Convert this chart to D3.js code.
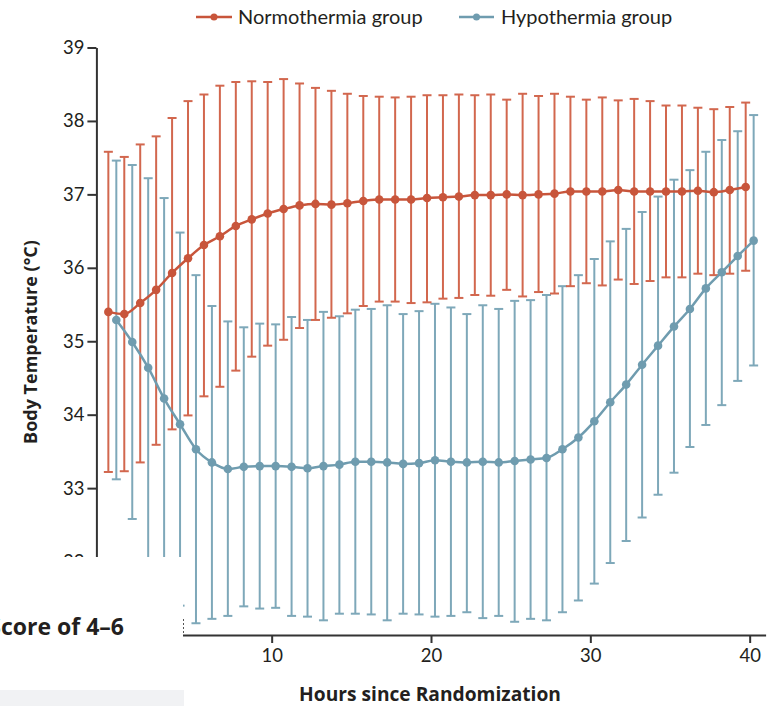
<!DOCTYPE html>
<html>
<head>
<meta charset="utf-8">
<script src="https://cdn.jsdelivr.net/npm/d3@7/dist/d3.min.js"></script>
<style>
  html, body { margin: 0; padding: 0; background: #fff; }
  svg { display: block; }
  text { font-family: Lato, "Open Sans", sans-serif; fill: #231f20; }
  .title { font-family: "Open Sans", Lato, sans-serif; font-weight: 700; }
</style>
</head>
<body>
<svg id="chart" width="773" height="706"></svg>
<script>
// Hourly body temperature (mean with error bars), hours 0-40 after randomization
const hours = d3.range(0, 41);

const normMean = [35.40,35.37,35.52,35.70,35.93,36.13,36.31,36.43,36.57,36.66,36.74,36.80,36.85,36.87,36.86,36.88,36.91,36.93,36.93,36.93,36.95,
                  36.96,36.97,36.99,36.99,37.00,36.99,37.00,37.01,37.04,37.04,37.04,37.06,37.04,37.04,37.04,37.04,37.05,37.03,37.06,37.10];
const normHigh = [37.58,37.51,37.68,37.79,38.04,38.27,38.36,38.48,38.53,38.54,38.53,38.57,38.51,38.45,38.41,38.37,38.34,38.33,38.32,38.33,38.35,
                  38.35,38.36,38.35,38.36,38.29,38.37,38.34,38.37,38.33,38.29,38.32,38.28,38.30,38.27,38.21,38.21,38.18,38.16,38.19,38.25];
const normLow  = [33.22,33.23,33.35,33.59,33.80,33.99,34.25,34.38,34.60,34.79,34.94,35.02,35.18,35.29,35.32,35.38,35.48,35.54,35.54,35.52,35.53,
                  35.58,35.59,35.63,35.62,35.70,35.61,35.67,35.65,35.75,35.79,35.76,35.84,35.78,35.82,35.87,35.87,35.92,35.90,35.92,35.96];

const hypoMean = [35.29,34.99,34.64,34.22,33.87,33.53,33.35,33.26,33.29,33.30,33.30,33.29,33.27,33.30,33.32,33.36,33.36,33.35,33.33,33.34,33.38,
                  33.36,33.35,33.36,33.35,33.37,33.39,33.41,33.53,33.69,33.91,34.17,34.41,34.68,34.94,35.20,35.44,35.72,35.94,36.16,36.37];
const hypoHigh = [37.46,37.40,37.22,36.95,36.48,35.90,35.48,35.27,35.19,35.24,35.23,35.33,35.29,35.40,35.34,35.43,35.44,35.49,35.37,35.41,35.51,
                  35.46,35.37,35.49,35.44,35.55,35.56,35.63,35.75,35.90,36.12,36.36,36.53,36.76,36.97,37.20,37.33,37.58,37.74,37.86,38.08];
const hypoLow  = [33.12,32.58,31.95,31.62,31.40,31.16,31.22,31.26,31.39,31.36,31.37,31.26,31.25,31.20,31.29,31.29,31.28,31.20,31.29,31.28,31.25,
                  31.26,31.31,31.23,31.26,31.18,31.22,31.20,31.31,31.47,31.70,31.98,32.28,32.60,32.91,33.21,33.56,33.86,34.13,34.46,34.67];

const xTicks = [0, 10, 20, 30, 40];
const yTicks = [32, 33, 34, 35, 36, 37, 38, 39];

const groups = [
  { name: "Normothermia group", mean: normMean, low: normLow, high: normHigh, shift: -0.25,
    line: "#c8553b", bar: "#d2674e" },
  { name: "Hypothermia group", mean: hypoMean, low: hypoLow, high: hypoHigh, shift: 0.25,
    line: "#6f9caf", bar: "#7ea8b9" }
];

const svg = d3.select("#chart");
const x = d3.scaleLinear().domain([-1, 41]).range([96.4, 765.6]);
const y = d3.scaleLinear().domain([31, 39]).range([635, 47.5]);

// axes
const yAxis = svg.append("g").attr("transform", "translate(96.4,0)")
  .call(d3.axisLeft(y).tickValues(yTicks).tickSize(9).tickSizeOuter(0).tickPadding(3));
const xAxis = svg.append("g").attr("transform", "translate(0,635)")
  .call(d3.axisBottom(x).tickValues(xTicks).tickSize(8).tickSizeOuter(0).tickPadding(6));
[yAxis, xAxis].forEach(a => {
  a.select(".domain").attr("stroke", "#333").attr("stroke-width", 2);
  a.selectAll(".tick line").attr("stroke", "#333").attr("stroke-width", 2);
  a.selectAll(".tick text").style("font-size", "18.5px").style("font-family", "Lato, sans-serif").attr("fill", "#231f20");
});

// error bars (hypothermia first, normothermia over it)
const capHalf = 4.5;
[groups[1], groups[0]].forEach(g => {
  const eb = svg.append("g").attr("stroke", g.bar).attr("stroke-width", 2).attr("fill", "none");
  hours.forEach((h, i) => {
    const cx = x(h + g.shift);
    eb.append("line").attr("x1", cx).attr("x2", cx).attr("y1", y(g.low[i])).attr("y2", y(g.high[i]));
    eb.append("line").attr("x1", cx - capHalf).attr("x2", cx + capHalf).attr("y1", y(g.high[i])).attr("y2", y(g.high[i]));
    eb.append("line").attr("x1", cx - capHalf).attr("x2", cx + capHalf).attr("y1", y(g.low[i])).attr("y2", y(g.low[i]));
  });
});

// mean lines with markers
groups.forEach(g => {
  const pts = hours.map((h, i) => [x(h + g.shift), y(g.mean[i])]);
  svg.append("path").attr("d", d3.line().curve(d3.curveMonotoneX)(pts))
    .attr("fill", "none").attr("stroke", g.line).attr("stroke-width", 2.5);
  svg.append("g").selectAll("circle").data(pts).join("circle")
    .attr("cx", d => d[0]).attr("cy", d => d[1]).attr("r", 4.3).attr("fill", g.line);
});

// axis titles
svg.append("text").attr("class", "title").attr("x", 430).attr("y", 701).attr("text-anchor", "middle")
  .style("font-size", "19.2px").text("Hours since Randomization");
svg.append("text").attr("class", "title").attr("transform", "translate(37,342) rotate(-90)").attr("text-anchor", "middle")
  .style("font-size", "18px").text("Body Temperature (°C)");

// legend
const legend = [
  { g: groups[0], x0: 196, x1: 232, tx: 238 },
  { g: groups[1], x0: 459, x1: 494, tx: 501 }
];
legend.forEach(l => {
  svg.append("line").attr("x1", l.x0).attr("x2", l.x1).attr("y1", 17).attr("y2", 17)
    .attr("stroke", l.g.line).attr("stroke-width", 2.5);
  svg.append("circle").attr("cx", (l.x0 + l.x1) / 2).attr("cy", 17).attr("r", 3.5).attr("fill", l.g.line);
  svg.append("text").attr("x", l.tx).attr("y", 24).style("font-size", "20px").text(l.g.name);
});

// panel lying over the lower-left corner
svg.append("rect").attr("x", 0).attr("y", 557).attr("width", 183).attr("height", 149).attr("fill", "#fff");
svg.append("rect").attr("x", 0).attr("y", 690).attr("width", 184).attr("height", 16).attr("fill", "#f1f2f4");
svg.append("text").attr("class", "title").attr("x", 124).attr("y", 635).attr("text-anchor", "end")
  .style("font-size", "23px").text("Score of 4–6");
svg.append("line").attr("x1", 183.5).attr("x2", 183.5).attr("y1", 619).attr("y2", 634)
  .attr("stroke", "#555").attr("stroke-width", 1).attr("stroke-dasharray", "2,2");
</script>
</body>
</html>
